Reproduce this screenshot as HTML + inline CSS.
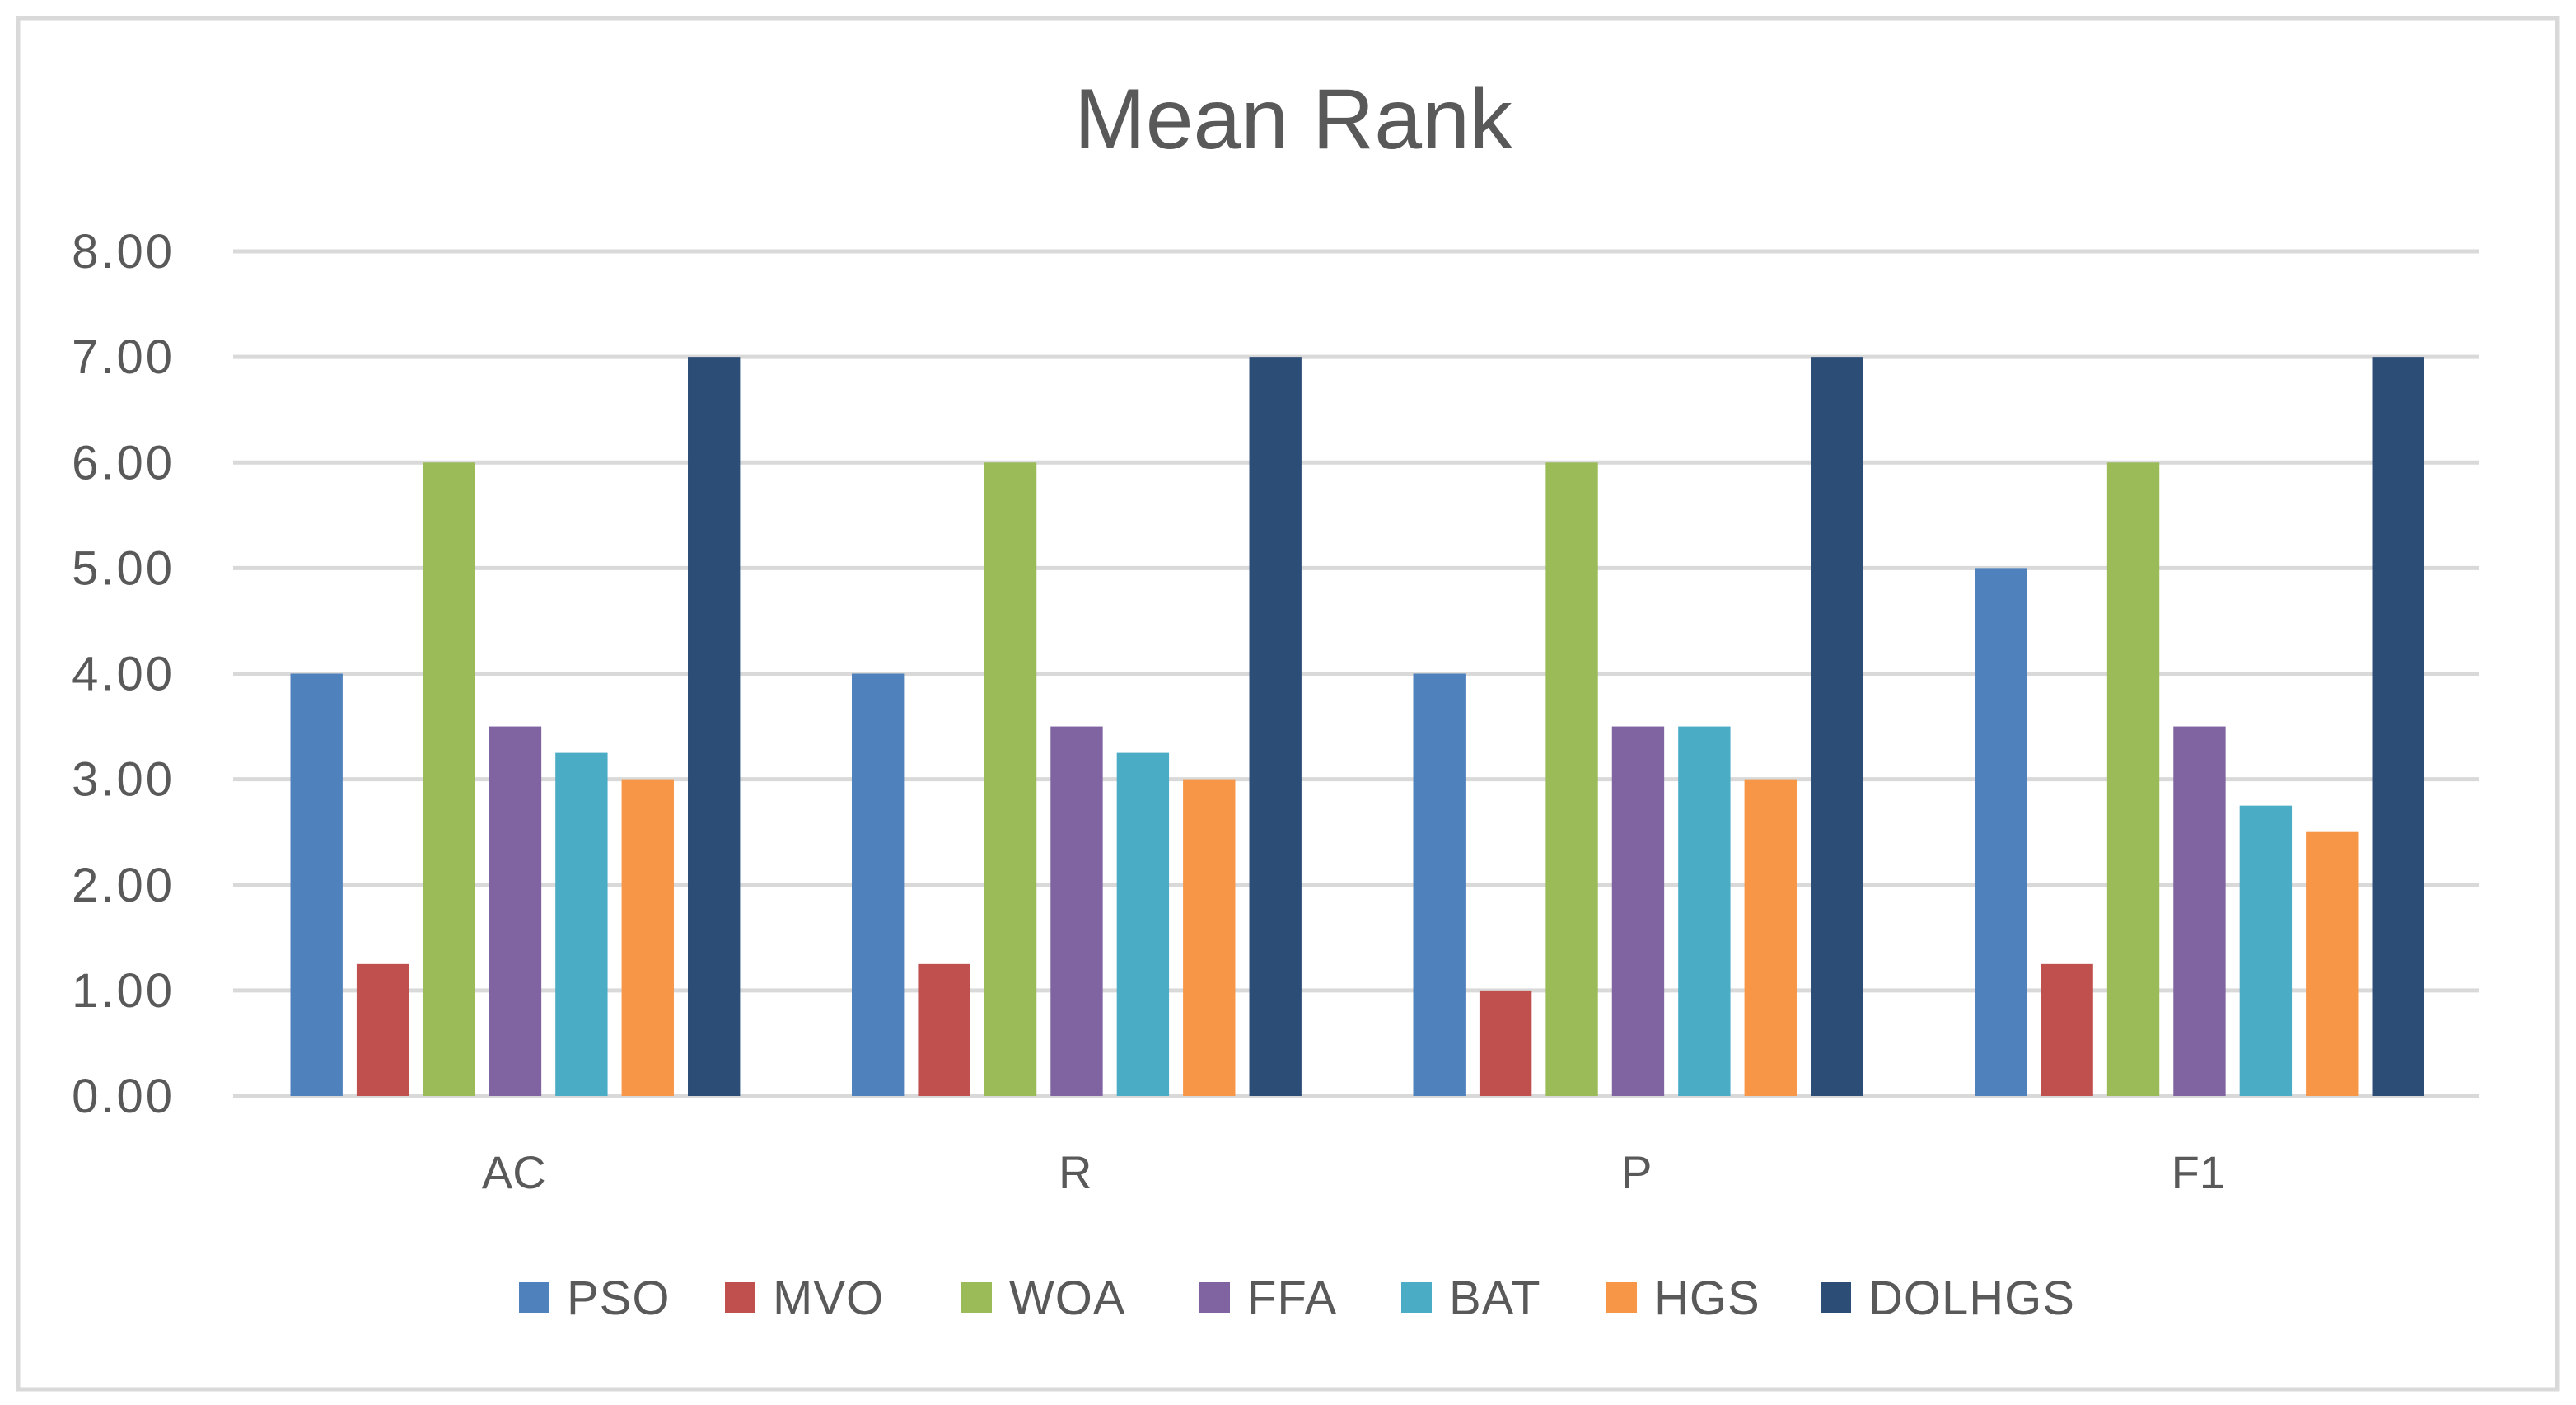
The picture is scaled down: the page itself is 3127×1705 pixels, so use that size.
<!DOCTYPE html>
<html><head><meta charset="utf-8">
<style>
html,body{margin:0;padding:0;background:#fff;}
svg{display:block;font-family:"Liberation Sans",sans-serif;}
</style></head>
<body>
<svg id="chart" width="3127" height="1705" viewBox="0 0 3127 1705" xmlns="http://www.w3.org/2000/svg">
<rect x="0" y="0" width="3127" height="1705" fill="#fff"/>
<rect x="22" y="22" width="3082" height="1664" fill="none" stroke="#d9d9d9" stroke-width="5"/>
<text x="1570" y="180" text-anchor="middle" font-size="104" fill="#595959">Mean Rank</text>
<g id="grid"></g>
<g id="yticks"></g>
<g id="bars"></g>
<g id="xticks"></g>
<g id="legend"></g>
</svg>
<script>
const categories = ["AC","R","P","F1"];
const seriesNames = ["PSO","MVO","WOA","FFA","BAT","HGS","DOLHGS"];
const seriesColors = ["#4f81bd","#c0504d","#9bbb59","#8064a2","#4bacc6","#f79646","#2c4d75"];
const PSO = [4,4,4,5];
const MVO = [1.25,1.25,1,1.25];
const WOA = [6,6,6,6];
const FFA = [3.5,3.5,3.5,3.5];
const BAT = [3.25,3.25,3.5,2.75];
const HGS = [3,3,3,2.5];
const DOLHGS = [7,7,7,7];
const yTicks = ["0.00","1.00","2.00","3.00","4.00","5.00","6.00","7.00","8.00"];
const seriesValues = [PSO,MVO,WOA,FFA,BAT,HGS,DOLHGS];

const NS="http://www.w3.org/2000/svg";
const L=283,R=3009,Y0=1330,Y8=305,YMAX=8;
const y=v=>Y0-(v/YMAX)*(Y0-Y8);
const gw=(R-L)/categories.length;
const x=(ci,si)=>L+ci*gw+gw*0.102+si*gw*0.118;
const bw=gw*0.093;
function mk(tag,attrs,parent){const e=document.createElementNS(NS,tag);for(const k in attrs)e.setAttribute(k,attrs[k]);parent.appendChild(e);return e;}
const grid=document.getElementById('grid'),yt=document.getElementById('yticks');
yTicks.forEach((t,i)=>{
  const v=parseFloat(t);
  const ln=mk('line',{x1:L,x2:R,y1:y(v),y2:y(v),stroke:'#d9d9d9','stroke-width':5},grid);
  
  
  const tx=mk('text',{x:212,y:y(v)+20,'text-anchor':'end','font-size':58,'letter-spacing':3,fill:'#595959'},yt);
  tx.textContent=t;
  
  
});
const bars=document.getElementById('bars');
seriesValues.forEach((vals,si)=>{
  vals.forEach((v,ci)=>{
    const r=mk('rect',{x:x(ci,si),y:y(v),width:bw,height:Y0-y(v),fill:seriesColors[si]},bars);
    
    
  });
});
const xt=document.getElementById('xticks');
categories.forEach((c,ci)=>{
  const t=mk('text',{x:L+ci*gw+gw/2,y:1442,'text-anchor':'middle','font-size':56,fill:'#595959'},xt);
  t.textContent=c;
  
  
});
const lg=document.getElementById('legend');
const lx=[630,880,1167,1456,1701,1950,2210];
seriesNames.forEach((n,i)=>{
  const g=mk('g',{},lg);
  
  
  mk('rect',{x:lx[i],y:1556,width:37,height:37,fill:seriesColors[i]},g);
  const t=mk('text',{x:lx[i]+58,y:1595,'font-size':58,'letter-spacing':1,fill:'#595959'},g);
  t.textContent=n;
});
</script>
</body></html>
